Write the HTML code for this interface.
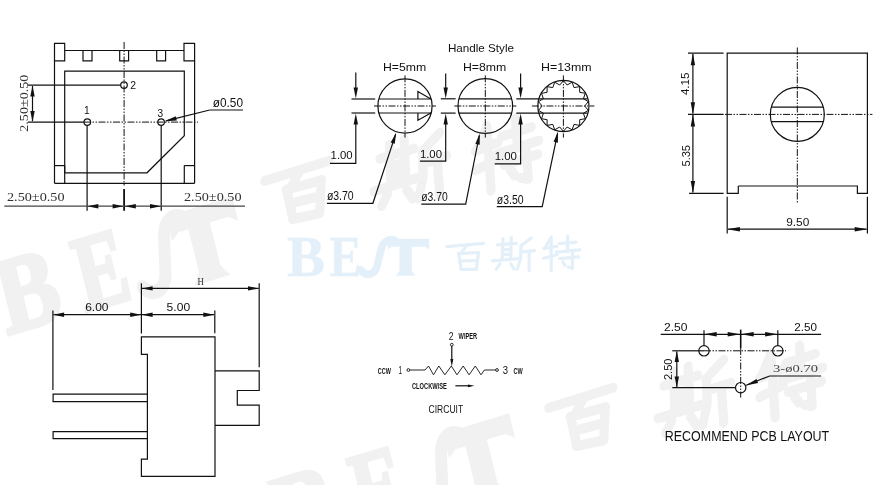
<!DOCTYPE html>
<html><head><meta charset="utf-8"><title>Drawing</title>
<style>
html,body{margin:0;padding:0;background:#fff;}
body{width:876px;height:485px;overflow:hidden;font-family:"Liberation Sans",sans-serif;}
svg{display:block;will-change:transform;}
</style></head><body>
<svg width="876" height="485" viewBox="0 0 876 485" stroke="#111" fill="none" stroke-linecap="butt">
<rect x="0" y="0" width="876" height="485" fill="#fff" stroke="none"/>
<defs><g id="lB"><text x="287" y="275.6" font-family="'Liberation Serif',serif" font-weight="bold" font-size="56" textLength="38" lengthAdjust="spacingAndGlyphs">B</text></g><g id="lE"><text x="329.5" y="275.6" font-family="'Liberation Serif',serif" font-weight="bold" font-size="56" textLength="32" lengthAdjust="spacingAndGlyphs">E</text></g><g id="lS"><path d="M361 270 C366 277 375 275 377 266 L381 250 C383 240 391 237 397 242" fill="none" stroke-width="7.5" stroke-linecap="round"/></g><g id="lT"><path d="M388 239 H429 V249 L425 246.5 H411.5 V271 L415 275.6 H396 L399.6 271 V246.5 H392 L388 249 Z"/></g><g id="c1" fill="none" stroke-linecap="round" stroke-linejoin="round"><path d="M446.9 246.6 L483.4 243.3"/><path d="M466.4 245.9 L460.6 253.6"/><path d="M458.4 253.6 L478.5 252.5"/><path d="M458.7 253.6 L461.1 269.3"/><path d="M478.5 252.5 L476.3 269.3"/><path d="M461.1 269.3 L476.3 269.3"/><path d="M459.8 261.2 L477.4 260.5"/></g><g id="c2" fill="none" stroke-linecap="round" stroke-linejoin="round"><path d="M502.9 238.6 L502.2 259.4"/><path d="M511.3 237.5 L510.6 259.1"/><path d="M497.1 244.8 L516.3 243.3"/><path d="M502.9 249.9 L511.0 249.4"/><path d="M502.9 254.7 L511.0 254.1"/><path d="M492.5 260.9 L517.6 258.7"/><path d="M500.0 263.8 L496.2 269.3"/><path d="M510.8 263.8 L513.9 268.9"/><path d="M531.4 238.0 L520.8 245.9"/><path d="M521.2 245.9 L520.5 259.1 L517.2 269.3"/><path d="M520.8 252.1 L534.5 250.6"/><path d="M529.1 251.7 L529.1 270.4"/></g><g id="c3" fill="none" stroke-linecap="round" stroke-linejoin="round"><path d="M550.4 238.6 L544.6 248.5"/><path d="M543.9 248.5 L557.0 246.3"/><path d="M551.2 236.8 L551.2 270.4"/><path d="M543.5 258.3 L557.0 254.7"/><path d="M559.2 243.7 L576.0 242.2"/><path d="M567.6 236.0 L567.6 251.4"/><path d="M556.3 252.1 L579.7 249.9"/><path d="M559.6 258.7 L578.6 256.9"/><path d="M572.4 251.7 L572.4 268.5 L568.3 267.1"/><path d="M562.9 262.0 L565.0 265.3"/></g></defs>
<g class="gw" fill="#f1f1f1" stroke="#f1f1f1" transform="translate(0,0)"><g stroke-width="2.2" transform="translate(28,292) rotate(-17) skewX(-3) scale(1.6,1.92) translate(-306,-257.5)"><use href="#lB"/></g><g stroke-width="2.2" transform="translate(101,271) rotate(-17) skewX(-3) scale(1.6,1.92) translate(-345.3,-257.5)"><use href="#lE"/></g><g stroke-width="2.2" transform="translate(163,256) rotate(-17) skewX(-3) scale(1.6,1.92) translate(-378,-257.5)"><use href="#lS"/></g><g stroke-width="2.2" transform="translate(208,243) rotate(-17) skewX(-3) scale(1.6,1.92) translate(-408.4,-257.5)"><use href="#lT"/></g><g stroke-width="5.2" transform="translate(298,192) rotate(-12) skewX(-8) scale(1.8,1.9) translate(-465,-256)"><use href="#c1"/></g><g stroke-width="5.2" transform="translate(411,170) rotate(-12) skewX(-8) scale(1.8,1.9) translate(-514,-254)"><use href="#c2"/></g><g stroke-width="5.2" transform="translate(508,155) rotate(-12) skewX(-8) scale(1.8,1.9) translate(-562,-254)"><use href="#c3"/></g></g>
<g class="gw" fill="#f1f1f1" stroke="#f1f1f1" transform="translate(277,217)"><g stroke-width="2.2" transform="translate(28,292) rotate(-17) skewX(-3) scale(1.6,1.92) translate(-306,-257.5)"><use href="#lB"/></g><g stroke-width="2.2" transform="translate(101,271) rotate(-17) skewX(-3) scale(1.6,1.92) translate(-345.3,-257.5)"><use href="#lE"/></g><g stroke-width="2.2" transform="translate(163,256) rotate(-17) skewX(-3) scale(1.6,1.92) translate(-378,-257.5)"><use href="#lS"/></g><g stroke-width="2.2" transform="translate(208,243) rotate(-17) skewX(-3) scale(1.6,1.92) translate(-408.4,-257.5)"><use href="#lT"/></g><g stroke-width="5.2" transform="translate(305,202) rotate(-12) skewX(-8) scale(1.8,1.9) translate(-465,-256)"><use href="#c1"/></g><g stroke-width="5.2" transform="translate(418,180) rotate(-12) skewX(-8) scale(1.8,1.9) translate(-514,-254)"><use href="#c2"/></g><g stroke-width="5.2" transform="translate(515,165) rotate(-12) skewX(-8) scale(1.8,1.9) translate(-562,-254)"><use href="#c3"/></g></g>
<g class="bw" fill="#e4f0f9" stroke="#e4f0f9"><g stroke-width="0.4"><use href="#lB"/><use href="#lE"/><use href="#lS"/><use href="#lT"/></g><g stroke-width="3.2"><use href="#c1"/><use href="#c2"/><use href="#c3"/></g></g>

<path d="M54.5 43.3 L64.7 43.3 L64.7 60.9 L54.5 60.9 Z" stroke-width="1.2" fill="none" />
<path d="M184.0 43.3 L194.6 43.3 L194.6 60.9 L184.0 60.9 Z" stroke-width="1.2" fill="none" />
<line x1="64.7" y1="50.5" x2="184.0" y2="50.5" stroke-width="1.2" />
<path d="M83.0 50.5 L83.0 60.9 L92.0 60.9 L92.0 50.5" stroke-width="1.2" fill="none" />
<path d="M119.7 50.5 L119.7 60.9 L128.6 60.9 L128.6 50.5" stroke-width="1.2" fill="none" />
<path d="M156.7 50.5 L156.7 60.9 L165.6 60.9 L165.6 50.5" stroke-width="1.2" fill="none" />
<line x1="54.5" y1="60.9" x2="54.5" y2="183.3" stroke-width="1.2" />
<line x1="194.6" y1="60.9" x2="194.6" y2="183.3" stroke-width="1.2" />
<line x1="54.5" y1="183.3" x2="194.6" y2="183.3" stroke-width="1.2" />
<path d="M64.7 172.8 L64.7 71.1 L184.3 71.1 L184.3 135.7 L147.0 172.8 L64.7 172.8" stroke-width="1.2" fill="none" />
<line x1="54.5" y1="165.6" x2="64.7" y2="165.6" stroke-width="1.2" />
<line x1="64.7" y1="165.6" x2="64.7" y2="183.3" stroke-width="1.2" />
<line x1="184.3" y1="165.6" x2="194.6" y2="165.6" stroke-width="1.2" />
<line x1="184.3" y1="165.6" x2="184.3" y2="183.3" stroke-width="1.2" />
<line x1="124.1" y1="42.0" x2="124.1" y2="186.0" stroke-width="1" stroke-dasharray="7 1.5 1.5 1.5 1.5 1.5"/>
<line x1="124.1" y1="189.0" x2="124.1" y2="210.8" stroke-width="1.8" />
<line x1="28.0" y1="122.1" x2="84.0" y2="122.1" stroke-width="1.2" />
<line x1="84.0" y1="122.1" x2="198.0" y2="122.1" stroke-width="1" stroke-dasharray="7 1.5 1.5 1.5 1.5 1.5"/>
<circle cx="124.0" cy="85.1" r="3.3" stroke-width="1.2" fill="none" />
<circle cx="87.3" cy="122.1" r="3.3" stroke-width="1.2" fill="none" />
<circle cx="161.1" cy="122.1" r="3.3" stroke-width="1.2" fill="none" />
<text x="130.2" y="88.8" font-size="10.3" font-family="'Liberation Sans', sans-serif" font-weight="normal" text-anchor="start" fill="#111" stroke="none" textLength="5.8" lengthAdjust="spacingAndGlyphs" >2</text>
<text x="84.0" y="113.5" font-size="10.3" font-family="'Liberation Sans', sans-serif" font-weight="normal" text-anchor="start" fill="#111" stroke="none" >1</text>
<text x="157.6" y="116.6" font-size="10.3" font-family="'Liberation Sans', sans-serif" font-weight="normal" text-anchor="start" fill="#111" stroke="none" textLength="5.6" lengthAdjust="spacingAndGlyphs" >3</text>
<line x1="27.5" y1="85.2" x2="120.7" y2="85.2" stroke-width="1.2" />
<line x1="32.5" y1="86.0" x2="32.5" y2="121.0" stroke-width="1.2" />
<polygon points="32.5,85.4 34.7,96.4 30.3,96.4" fill="#111" stroke="none"/>
<polygon points="32.5,121.9 30.3,110.9 34.7,110.9" fill="#111" stroke="none"/>
<text x="28.3" y="131.7" font-size="11.8" font-family="'Liberation Serif', sans-serif" font-weight="normal" text-anchor="start" fill="#333" stroke="none" textLength="57.0" lengthAdjust="spacingAndGlyphs" transform="rotate(-90 28.3 131.7)" >2.50±0.50</text>
<line x1="87.1" y1="125.4" x2="87.1" y2="210.8" stroke-width="1.2" />
<line x1="161.2" y1="125.4" x2="161.2" y2="210.8" stroke-width="1.2" />
<line x1="4.3" y1="206.2" x2="245.0" y2="206.2" stroke-width="1.2" stroke="#444"/>
<polygon points="87.3,206.2 98.3,204.0 98.3,208.4" fill="#111" stroke="none"/>
<polygon points="123.6,206.2 112.6,208.4 112.6,204.0" fill="#111" stroke="none"/>
<polygon points="124.8,206.2 135.8,204.0 135.8,208.4" fill="#111" stroke="none"/>
<polygon points="161.0,206.2 150.0,208.4 150.0,204.0" fill="#111" stroke="none"/>
<text x="7.0" y="201.3" font-size="11.8" font-family="'Liberation Serif', sans-serif" font-weight="normal" text-anchor="start" fill="#333" stroke="none" textLength="57.5" lengthAdjust="spacingAndGlyphs" >2.50±0.50</text>
<text x="184.0" y="201.3" font-size="11.8" font-family="'Liberation Serif', sans-serif" font-weight="normal" text-anchor="start" fill="#333" stroke="none" textLength="57.5" lengthAdjust="spacingAndGlyphs" >2.50±0.50</text>
<text x="212.8" y="106.9" font-size="13.5" font-family="'Liberation Sans', sans-serif" font-weight="normal" text-anchor="start" fill="#111" stroke="none" textLength="30.2" lengthAdjust="spacingAndGlyphs" >ø0.50</text>
<line x1="209.7" y1="110.0" x2="243.0" y2="110.0" stroke-width="1.2" />
<line x1="209.7" y1="110.0" x2="166.0" y2="120.8" stroke-width="1.2" />
<polygon points="164.6,121.2 175.7,116.2 176.8,120.5" fill="#111" stroke="none"/>
<text x="447.9" y="51.7" font-size="11.2" font-family="'Liberation Sans', sans-serif" font-weight="normal" text-anchor="start" fill="#111" stroke="none" textLength="66.1" lengthAdjust="spacingAndGlyphs" >Handle Style</text>
<text x="383.0" y="71.2" font-size="10.4" font-family="'Liberation Sans', sans-serif" font-weight="normal" text-anchor="start" fill="#111" stroke="none" textLength="43.3" lengthAdjust="spacingAndGlyphs" >H=5mm</text>
<text x="462.9" y="71.2" font-size="10.4" font-family="'Liberation Sans', sans-serif" font-weight="normal" text-anchor="start" fill="#111" stroke="none" textLength="43.4" lengthAdjust="spacingAndGlyphs" >H=8mm</text>
<text x="541.0" y="71.2" font-size="10.4" font-family="'Liberation Sans', sans-serif" font-weight="normal" text-anchor="start" fill="#111" stroke="none" textLength="50.7" lengthAdjust="spacingAndGlyphs" >H=13mm</text>
<circle cx="405.0" cy="106.0" r="27.1" stroke-width="1.2" fill="none" />
<line x1="378.7" y1="99.0" x2="431.4" y2="99.0" stroke-width="1.2" />
<line x1="378.7" y1="113.0" x2="431.4" y2="113.0" stroke-width="1.2" />
<path d="M430.9 99.0 L417.9 91.5 L417.9 99.0" stroke-width="1.2" fill="none" />
<path d="M430.9 113.0 L417.9 120.3 L417.9 113.0" stroke-width="1.2" fill="none" />
<line x1="374.0" y1="106.0" x2="436.0" y2="106.0" stroke-width="1" stroke-dasharray="7 1.5 1.5 1.5 1.5 1.5"/>
<line x1="405.0" y1="75.4" x2="405.0" y2="137.6" stroke-width="1" stroke-dasharray="7 1.5 1.5 1.5 1.5 1.5"/>
<line x1="351.5" y1="99.0" x2="375.2" y2="99.0" stroke-width="1.2" />
<line x1="351.5" y1="113.0" x2="375.2" y2="113.0" stroke-width="1.2" />
<line x1="355.8" y1="72.6" x2="355.8" y2="92.0" stroke-width="1.2" />
<polygon points="355.8,98.6 353.6,87.6 358.0,87.6" fill="#111" stroke="none"/>
<polygon points="355.8,113.4 358.0,124.4 353.6,124.4" fill="#111" stroke="none"/>
<path d="M355.8 120.0 L355.8 163.3 L330.0 163.3" stroke-width="1.2" fill="none" />
<text x="330.6" y="159.3" font-size="10" font-family="'Liberation Sans', sans-serif" font-weight="normal" text-anchor="start" fill="#111" stroke="none" textLength="22.1" lengthAdjust="spacingAndGlyphs" >1.00</text>
<text x="326.9" y="200.0" font-size="12" font-family="'Liberation Sans', sans-serif" font-weight="normal" text-anchor="start" fill="#111" stroke="none" textLength="26.8" lengthAdjust="spacingAndGlyphs" >ø3.70</text>
<path d="M326.9 203.3 L372.9 203.3 L395.6 134.4" stroke-width="1.2" fill="none" />
<polygon points="396.2,132.6 394.8,143.7 390.7,142.4" fill="#111" stroke="none"/>
<circle cx="485.3" cy="106.0" r="27.3" stroke-width="1.2" fill="none" />
<line x1="458.8" y1="98.8" x2="511.8" y2="98.8" stroke-width="1.2" />
<line x1="458.8" y1="113.1" x2="511.8" y2="113.1" stroke-width="1.2" />
<line x1="454.3" y1="106.0" x2="516.3" y2="106.0" stroke-width="1" stroke-dasharray="7 1.5 1.5 1.5 1.5 1.5"/>
<line x1="485.3" y1="75.4" x2="485.3" y2="137.6" stroke-width="1" stroke-dasharray="7 1.5 1.5 1.5 1.5 1.5"/>
<line x1="440.8" y1="98.8" x2="455.6" y2="98.8" stroke-width="1.2" />
<line x1="440.8" y1="113.1" x2="455.6" y2="113.1" stroke-width="1.2" />
<line x1="445.7" y1="73.4" x2="445.7" y2="92.0" stroke-width="1.2" />
<polygon points="445.7,98.4 443.5,87.4 447.9,87.4" fill="#111" stroke="none"/>
<polygon points="445.7,113.5 447.9,124.5 443.5,124.5" fill="#111" stroke="none"/>
<path d="M445.7 120.0 L445.7 161.2 L419.9 161.2" stroke-width="1.2" fill="none" />
<text x="419.9" y="157.5" font-size="10" font-family="'Liberation Sans', sans-serif" font-weight="normal" text-anchor="start" fill="#111" stroke="none" textLength="22.1" lengthAdjust="spacingAndGlyphs" >1.00</text>
<text x="421.3" y="200.8" font-size="12" font-family="'Liberation Sans', sans-serif" font-weight="normal" text-anchor="start" fill="#111" stroke="none" textLength="26.4" lengthAdjust="spacingAndGlyphs" >ø3.70</text>
<path d="M421.3 204.1 L465.7 204.1 L479.3 135.5" stroke-width="1.2" fill="none" />
<polygon points="479.7,133.6 479.7,144.8 475.4,144.0" fill="#111" stroke="none"/>
<circle cx="563.4" cy="106.0" r="25.6" stroke-width="1.2" fill="none" />
<path d="M563.4 80.7 L567.1 85.0 L572.1 82.2 L574.0 87.6 L579.7 86.6 L579.7 92.3 L585.3 93.3 L583.4 98.7 L588.3 101.6 L584.7 106.0 L588.3 110.4 L583.4 113.3 L585.3 118.7 L579.7 119.7 L579.7 125.4 L574.0 124.4 L572.1 129.8 L567.1 127.0 L563.4 131.3 L559.7 127.0 L554.7 129.8 L552.8 124.4 L547.1 125.4 L547.1 119.7 L541.5 118.7 L543.4 113.3 L538.5 110.4 L542.1 106.0 L538.5 101.6 L543.4 98.7 L541.5 93.3 L547.1 92.3 L547.1 86.6 L552.8 87.6 L554.7 82.2 L559.7 85.0 L563.4 80.7" stroke-width="1" fill="none" />
<line x1="516.3" y1="98.8" x2="587.5" y2="98.8" stroke-width="1.2" />
<line x1="516.3" y1="113.1" x2="587.5" y2="113.1" stroke-width="1.2" />
<line x1="531.9" y1="106.0" x2="594.4" y2="106.0" stroke-width="1" stroke-dasharray="7 1.5 1.5 1.5 1.5 1.5"/>
<line x1="563.4" y1="75.4" x2="563.4" y2="137.6" stroke-width="1" stroke-dasharray="7 1.5 1.5 1.5 1.5 1.5"/>
<line x1="520.6" y1="73.4" x2="520.6" y2="92.0" stroke-width="1.2" />
<polygon points="520.6,98.4 518.4,87.4 522.8,87.4" fill="#111" stroke="none"/>
<polygon points="520.6,113.5 522.8,124.5 518.4,124.5" fill="#111" stroke="none"/>
<path d="M520.6 120.0 L520.6 163.9 L494.7 163.9" stroke-width="1.2" fill="none" />
<text x="494.7" y="160.2" font-size="10" font-family="'Liberation Sans', sans-serif" font-weight="normal" text-anchor="start" fill="#111" stroke="none" textLength="22.3" lengthAdjust="spacingAndGlyphs" >1.00</text>
<text x="496.8" y="204.1" font-size="12" font-family="'Liberation Sans', sans-serif" font-weight="normal" text-anchor="start" fill="#111" stroke="none" textLength="26.8" lengthAdjust="spacingAndGlyphs" >ø3.50</text>
<path d="M496.8 206.6 L542.2 206.6 L557.6 133.4" stroke-width="1.2" fill="none" />
<polygon points="558.0,131.5 557.9,142.7 553.6,141.8" fill="#111" stroke="none"/>
<path d="M738.3 186.0 L738.3 193.3 L727.2 193.3 L727.2 53.1 L867.4 53.1 L867.4 193.3 L857.4 193.3 L857.4 186.0 L738.3 186.0" stroke-width="1.2" fill="none" />
<circle cx="797.3" cy="114.4" r="27.0" stroke-width="1.2" fill="none" />
<line x1="771.2" y1="107.1" x2="823.4" y2="107.1" stroke-width="1.2" />
<line x1="771.2" y1="121.7" x2="823.4" y2="121.7" stroke-width="1.2" />
<line x1="797.3" y1="47.5" x2="797.3" y2="203.0" stroke-width="1" stroke-dasharray="7 1.5 1.5 1.5 1.5 1.5"/>
<line x1="688.0" y1="114.4" x2="723.6" y2="114.4" stroke-width="1.2" />
<line x1="725.0" y1="114.4" x2="872.4" y2="114.4" stroke-width="1" stroke-dasharray="7 1.5 1.5 1.5 1.5 1.5"/>
<line x1="688.0" y1="53.1" x2="723.6" y2="53.1" stroke-width="1.2" />
<line x1="689.0" y1="193.3" x2="723.6" y2="193.3" stroke-width="1.2" />
<line x1="692.9" y1="54.0" x2="692.9" y2="113.5" stroke-width="1.2" />
<polygon points="692.9,53.3 695.1,65.3 690.7,65.3" fill="#111" stroke="none"/>
<polygon points="692.9,114.2 690.7,102.2 695.1,102.2" fill="#111" stroke="none"/>
<line x1="692.9" y1="115.0" x2="692.9" y2="192.5" stroke-width="1.2" />
<polygon points="692.9,114.6 695.1,126.6 690.7,126.6" fill="#111" stroke="none"/>
<polygon points="692.9,193.1 690.7,181.1 695.1,181.1" fill="#111" stroke="none"/>
<text x="689.5" y="95.1" font-size="11" font-family="'Liberation Sans', sans-serif" font-weight="normal" text-anchor="start" fill="#111" stroke="none" textLength="22.5" lengthAdjust="spacingAndGlyphs" transform="rotate(-90 689.5 95.1)" >4.15</text>
<text x="689.5" y="166.5" font-size="11" font-family="'Liberation Sans', sans-serif" font-weight="normal" text-anchor="start" fill="#111" stroke="none" textLength="21.5" lengthAdjust="spacingAndGlyphs" transform="rotate(-90 689.5 166.5)" >5.35</text>
<line x1="727.2" y1="196.7" x2="727.2" y2="233.5" stroke-width="1.2" />
<line x1="867.4" y1="196.7" x2="867.4" y2="233.5" stroke-width="1.2" />
<line x1="728.0" y1="229.2" x2="866.6" y2="229.2" stroke-width="1.2" />
<polygon points="727.4,229.2 739.9,227.0 739.9,231.4" fill="#111" stroke="none"/>
<polygon points="867.2,229.2 854.7,231.4 854.7,227.0" fill="#111" stroke="none"/>
<text x="786.2" y="225.5" font-size="11" font-family="'Liberation Sans', sans-serif" font-weight="normal" text-anchor="start" fill="#111" stroke="none" textLength="23.1" lengthAdjust="spacingAndGlyphs" >9.50</text>
<path d="M141.4 336.9 L215.0 336.9 L215.0 476.4 L141.4 476.4 L141.4 459.1 L147.4 459.1 L147.4 354.4 L141.4 354.4 Z" stroke-width="1.2" fill="none" />
<path d="M215.0 370.8 L259.2 370.8 L259.2 390.5 L237.3 390.5 L237.3 405.1 L259.2 405.1 L259.2 425.4 L215.0 425.4" stroke-width="1.2" fill="none" />
<path d="M147.4 394.2 L53.1 394.2 L53.1 401.6 L147.4 401.6" stroke-width="1.2" fill="none" />
<path d="M147.4 431.7 L53.1 431.7 L53.1 438.6 L147.4 438.6" stroke-width="1.2" fill="none" />
<line x1="141.4" y1="283.2" x2="141.4" y2="333.6" stroke-width="1.2" />
<line x1="259.2" y1="283.2" x2="259.2" y2="367.3" stroke-width="1.2" />
<line x1="142.0" y1="288.4" x2="258.6" y2="288.4" stroke-width="1.2" />
<polygon points="141.6,288.4 152.6,286.2 152.6,290.6" fill="#111" stroke="none"/>
<polygon points="259.0,288.4 248.0,290.6 248.0,286.2" fill="#111" stroke="none"/>
<text x="197.5" y="284.5" font-size="10.5" font-family="'Liberation Serif', sans-serif" font-weight="normal" text-anchor="start" fill="#333" stroke="none" textLength="6.4" lengthAdjust="spacingAndGlyphs" >H</text>
<line x1="52.9" y1="310.5" x2="52.9" y2="390.0" stroke-width="1.2" />
<line x1="214.8" y1="310.5" x2="214.8" y2="333.3" stroke-width="1.2" />
<line x1="53.5" y1="314.7" x2="214.0" y2="314.7" stroke-width="1.2" />
<polygon points="53.1,314.7 64.1,312.5 64.1,316.9" fill="#111" stroke="none"/>
<polygon points="141.2,314.7 130.2,316.9 130.2,312.5" fill="#111" stroke="none"/>
<polygon points="141.6,314.7 152.6,312.5 152.6,316.9" fill="#111" stroke="none"/>
<polygon points="214.3,314.7 203.3,316.9 203.3,312.5" fill="#111" stroke="none"/>
<text x="85.2" y="311.1" font-size="10.8" font-family="'Liberation Sans', sans-serif" font-weight="normal" text-anchor="start" fill="#111" stroke="none" textLength="23.3" lengthAdjust="spacingAndGlyphs" >6.00</text>
<text x="166.6" y="311.1" font-size="10.8" font-family="'Liberation Sans', sans-serif" font-weight="normal" text-anchor="start" fill="#111" stroke="none" textLength="23.5" lengthAdjust="spacingAndGlyphs" >5.00</text>
<text x="448.8" y="339.8" font-size="10.8" font-family="'Liberation Sans', sans-serif" font-weight="normal" text-anchor="start" fill="#111" stroke="none" textLength="4.8" lengthAdjust="spacingAndGlyphs" >2</text>
<text x="458.6" y="338.5" font-size="8.2" font-family="'Liberation Sans', sans-serif" font-weight="bold" text-anchor="start" fill="#111" stroke="none" textLength="18.5" lengthAdjust="spacingAndGlyphs" >WIPER</text>
<circle cx="451.8" cy="344.7" r="1.4" stroke-width="0.9" fill="none" />
<line x1="451.8" y1="346.1" x2="451.8" y2="362.0" stroke-width="1.2" />
<polygon points="451.8,366.8 450.3,359.0 453.3,359.0" fill="#111" stroke="none"/>
<circle cx="408.4" cy="370.0" r="1.4" stroke-width="0.9" fill="none" />
<circle cx="497.0" cy="370.0" r="1.4" stroke-width="0.9" fill="none" />
<path d="M409.8 370.0 L425.0 370.0 L428.5 366.0 L433.5 374.8 L438.8 366.0 L444.9 374.8 L451.3 366.0 L457.0 374.8 L463.2 366.0 L469.1 374.8 L475.3 366.0 L481.0 374.8 L484.4 370.0 L495.6 370.0" stroke-width="0.9" fill="none" />
<text x="377.8" y="373.9" font-size="8.2" font-family="'Liberation Sans', sans-serif" font-weight="bold" text-anchor="start" fill="#111" stroke="none" textLength="13.0" lengthAdjust="spacingAndGlyphs" >CCW</text>
<text x="398.4" y="374.0" font-size="10.6" font-family="'Liberation Sans', sans-serif" font-weight="normal" text-anchor="start" fill="#111" stroke="none" textLength="3.6" lengthAdjust="spacingAndGlyphs" >1</text>
<text x="502.7" y="374.0" font-size="10.6" font-family="'Liberation Sans', sans-serif" font-weight="normal" text-anchor="start" fill="#111" stroke="none" textLength="5.3" lengthAdjust="spacingAndGlyphs" >3</text>
<text x="513.4" y="373.9" font-size="8.2" font-family="'Liberation Sans', sans-serif" font-weight="bold" text-anchor="start" fill="#111" stroke="none" textLength="9.2" lengthAdjust="spacingAndGlyphs" >CW</text>
<text x="412.0" y="389.2" font-size="8.8" font-family="'Liberation Sans', sans-serif" font-weight="bold" text-anchor="start" fill="#111" stroke="none" textLength="34.8" lengthAdjust="spacingAndGlyphs" >CLOCKWISE</text>
<line x1="455.4" y1="385.8" x2="470.0" y2="385.8" stroke-width="1.2" />
<polygon points="474.4,385.8 467.9,387.2 467.9,384.4" fill="#111" stroke="none"/>
<text x="428.5" y="412.7" font-size="11.5" font-family="'Liberation Sans', sans-serif" font-weight="normal" text-anchor="start" fill="#111" stroke="none" textLength="34.7" lengthAdjust="spacingAndGlyphs" >CIRCUIT</text>
<line x1="660.7" y1="334.3" x2="821.1" y2="334.3" stroke-width="1.2" />
<text x="664.0" y="330.6" font-size="10" font-family="'Liberation Sans', sans-serif" font-weight="normal" text-anchor="start" fill="#111" stroke="none" textLength="23.5" lengthAdjust="spacingAndGlyphs" >2.50</text>
<text x="794.3" y="330.6" font-size="10" font-family="'Liberation Sans', sans-serif" font-weight="normal" text-anchor="start" fill="#111" stroke="none" textLength="22.7" lengthAdjust="spacingAndGlyphs" >2.50</text>
<circle cx="704.0" cy="350.8" r="5.2" stroke-width="1.2" fill="none" />
<circle cx="777.8" cy="350.8" r="5.2" stroke-width="1.2" fill="none" />
<circle cx="740.7" cy="387.7" r="5.2" stroke-width="1.2" fill="none" />
<line x1="704.0" y1="330.2" x2="704.0" y2="345.6" stroke-width="1.2" />
<line x1="777.8" y1="330.2" x2="777.8" y2="345.6" stroke-width="1.2" />
<line x1="740.7" y1="329.6" x2="740.7" y2="348.0" stroke-width="1.6" />
<line x1="740.7" y1="348.0" x2="740.7" y2="397.6" stroke-width="1" stroke-dasharray="7 1.5 1.5 1.5 1.5 1.5"/>
<line x1="672.3" y1="350.8" x2="704.0" y2="350.8" stroke-width="1.2" />
<line x1="704.0" y1="350.8" x2="786.0" y2="350.8" stroke-width="1" stroke-dasharray="7 1.5 1.5 1.5 1.5 1.5"/>
<line x1="672.3" y1="387.7" x2="735.5" y2="387.7" stroke-width="1.2" />
<line x1="676.8" y1="351.5" x2="676.8" y2="387.0" stroke-width="1.2" />
<polygon points="676.8,351.0 679.0,362.0 674.6,362.0" fill="#111" stroke="none"/>
<polygon points="676.8,387.5 674.6,376.5 679.0,376.5" fill="#111" stroke="none"/>
<text x="672.3" y="380.1" font-size="10" font-family="'Liberation Sans', sans-serif" font-weight="normal" text-anchor="start" fill="#111" stroke="none" textLength="21.6" lengthAdjust="spacingAndGlyphs" transform="rotate(-90 672.3 380.1)" >2.50</text>
<polygon points="704.2,334.3 716.7,332.1 716.7,336.5" fill="#111" stroke="none"/>
<polygon points="740.2,334.3 727.7,336.5 727.7,332.1" fill="#111" stroke="none"/>
<polygon points="741.2,334.3 753.7,332.1 753.7,336.5" fill="#111" stroke="none"/>
<polygon points="777.6,334.3 765.1,336.5 765.1,332.1" fill="#111" stroke="none"/>
<text x="773.1" y="371.9" font-size="10.5" font-family="'Liberation Serif', sans-serif" font-weight="normal" text-anchor="start" fill="#444" stroke="none" textLength="44.9" lengthAdjust="spacingAndGlyphs" >3-ø0.70</text>
<path d="M821.1 376.0 L769.6 376.0 L746.2 385.2" stroke-width="1.2" fill="none" />
<polygon points="745.7,385.5 756.5,378.9 758.1,383.0" fill="#111" stroke="none"/>
<text x="664.8" y="441.3" font-size="13.8" font-family="'Liberation Sans', sans-serif" font-weight="normal" text-anchor="start" fill="#111" stroke="none" textLength="164.4" lengthAdjust="spacingAndGlyphs" >RECOMMEND PCB LAYOUT</text>
</svg>
</body></html>
